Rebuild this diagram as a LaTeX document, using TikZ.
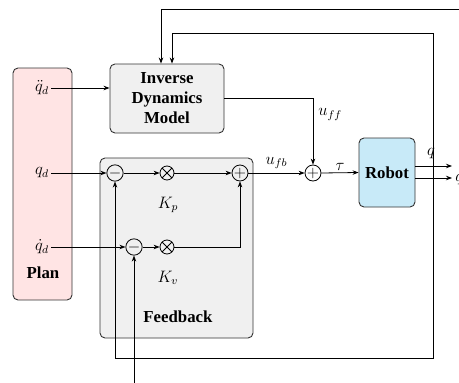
\RequirePackage{fix-cm}
\documentclass[tikz,border=0pt]{standalone}
\usepackage{fontspec}
\setmainfont{Liberation Serif}
\usetikzlibrary{arrows.meta,calc}
\definecolor{planfill}{HTML}{FFE4E4}
\definecolor{robfill}{HTML}{C8EAF8}
\definecolor{fbfill}{HTML}{F0F0F0}
\begin{document}
\begin{tikzpicture}[x=1pt,y=-1pt,
  box/.style={draw=black!80, line width=0.9pt, rounded corners=5pt, inner sep=0pt},
  lbl/.style={font=\fontsize{12}{14}\selectfont, inner sep=1.5pt, scale=1.38},
  btxt/.style={font=\fontsize{16.8}{20}\selectfont\bfseries, align=center},
  sumc/.style={circle, draw, line width=0.8pt, minimum size=14pt, inner sep=0pt, font=\fontsize{16}{16}\selectfont},
  mulc/.style={circle, draw, line width=0.8pt, minimum size=14pt, inner sep=0pt,
    path picture={\draw[line width=0.8pt] (path picture bounding box.north west) -- (path picture bounding box.south east)
      (path picture bounding box.north east) -- (path picture bounding box.south west);}},
  arr/.style={-{Stealth[length=6pt,width=4.5pt]}, line width=0.8pt},
  ln/.style={line width=0.8pt}]
\useasboundingbox (0,0) rectangle (459,383);
\clip (0,0) rectangle (459,383);

% boxes
\node[box, fill=planfill, minimum width=59pt, minimum height=232pt] (plan) at (42.5,184) {};
\node[box, fill=fbfill, minimum width=114pt, minimum height=69pt, btxt] (idm) at (167,98.5) {Inverse\\Dynamics\\Model};
\node[box, fill=fbfill, minimum width=153pt, minimum height=180pt] (fb) at (176.5,248) {};
\node[box, fill=robfill, minimum width=56pt, minimum height=69pt, btxt] (robot) at (387,172.5) {Robot};
\node[btxt] (plantxt) at (43,273) {Plan};
\node[btxt] (fbtxt) at (178,317) {Feedback};

% plan labels
\node[lbl] (qdd) at (42,88) {$\ddot q_d$};
\node[lbl] (qd) at (42,173) {$q_d$};
\node[lbl] (qdot) at (42,247) {$\dot q_d$};

% operators
\node[sumc] (m1) at (115,173) {$-$};
\node[mulc] (x1) at (167,173) {};
\node[sumc] (p1) at (240,173) {$+$};
\node[sumc] (m2) at (134,247) {$-$};
\node[mulc] (x2) at (167,247) {};
\node[sumc] (s) at (313,173) {$+$};

\node[lbl] (kp) at (168,205) {$K_p$};
\node[lbl] (kv) at (168,278) {$K_v$};

% forward connections
\draw[arr] (qdd.east) -- (qdd.east -| idm.west);
\draw[arr] (qd.east) -- (m1.west);
\draw[arr] (qdot.east) -- (m2.west);
\draw[arr] (m1.east) -- (x1.west);
\draw[arr] (x1.east) -- (p1.west);
\draw[arr] (m2.east) -- (x2.west);
\draw[arr] (x2.east) -| (p1.south);
\draw[arr] (p1.east) -- node[lbl, above=1pt] (ufb) {$u_{fb}$} (s.west);
\draw[arr] (idm.east) -| node[lbl, pos=0.62, right=2pt] (uff) {$u_{ff}$} (s.north);
\draw[arr] (s.east) -- node[lbl, above=0pt] (tau) {$\tau$} (robot.west);

% robot outputs
\coordinate (qo) at (452,166);
\coordinate (qdo) at (452,178);
\draw[arr] (robot.east |- qo) -- (qo);
\draw[arr] (robot.east |- qdo) -- (qdo);
\node[lbl] (qlab) at (431,154) {$q$};
\node[lbl, anchor=west, inner sep=0pt] (qdlab) at (455,178) {$\dot q$};

% q feedback
\coordinate (qtap) at (433,166);
\coordinate (qtop) at (433,33);
\coordinate (qbot) at (433,358);
\draw[arr] (qtap) -- (qtop) -| ([xshift=5pt]idm.north);
\draw[arr] (qtap) -- (qbot) -| (m1.south);

% qdot feedback
\coordinate (qdtap) at (475,178);
\coordinate (qdtop) at (475,9);
\coordinate (qdbot) at (475,383.5);
\draw[arr] (qdtap) -- (qdtop) -| ([xshift=-6pt]idm.north);
\draw[arr] (qdtap) -- (qdbot) -| (m2.south);
\end{tikzpicture}
\end{document}
